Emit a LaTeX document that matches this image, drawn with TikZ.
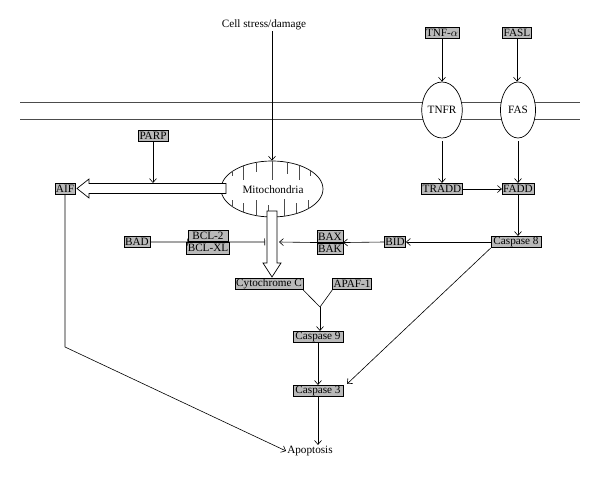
\documentclass[tikz,border=0pt]{standalone}
\usepackage{fontspec}
\setmainfont{Liberation Serif}
\usetikzlibrary{arrows.meta,calc,shapes.geometric}
\begin{document}
\begin{tikzpicture}[x=1pt,y=-1pt,
  fnt/.style={font=\fontsize{11.2}{11.2}\selectfont},
  gbox/.style={fnt,draw,fill=gray!55,inner xsep=1pt,inner ysep=0pt,minimum height=11.5pt,line width=0.6pt},
  plain/.style={fnt,inner sep=1pt},
  oval/.style={draw,fill=white,ellipse,line width=0.7pt},
  arr/.style={-{Straight Barb[length=4pt,width=7pt]},line width=0.6pt},
  inh/.style={-{Bar[width=7pt]},line width=0.6pt},
  ln/.style={line width=0.6pt},
  hollow/.style={draw,fill=white,line width=0.7pt}]
\useasboundingbox (0,0) rectangle (600,478);
% membrane
\draw[line width=0.8pt,gray!60!black] (20,102) -- (580,102);
\draw[line width=0.8pt,gray!60!black] (20,119) -- (580,119);
% stress
\node[plain] (stress) at (264,25) {Cell stress/damage};
% receptors
\node[oval,fnt,minimum width=35pt,minimum height=56pt,inner sep=0pt] (tnfr) at (442,110) {TNFR};
\node[oval,fnt,minimum width=35pt,minimum height=56pt,inner sep=0pt] (fas) at (518,110) {FAS};
\node[gbox,minimum width=29pt] (tnf) at (442,33) {TNF-$\alpha$};
\node[gbox,minimum width=27pt] (fasl) at (517,33) {FASL};
\node[gbox,minimum width=37pt] (tradd) at (442,189) {TRADD};
\node[gbox,minimum width=30pt] (fadd) at (518,189) {FADD};
\node[gbox,minimum width=50pt] (c8) at (516,242) {Caspase 8};
\node[gbox,minimum width=21pt] (bid) at (395,242) {BID};
\node[gbox,minimum width=25pt] (bax) at (330,236.5) {BAX};
\node[gbox,minimum width=25pt,anchor=north] (bak) at (bax.south) {BAK};
\node[gbox,minimum width=40pt] (bcl) at (208,236) {BCL-2};
\node[gbox,minimum width=40pt,anchor=north] (bclxl) at (bcl.south) {BCL-XL};
\node[gbox,minimum width=24pt] (bad) at (137,242) {BAD};
\node[gbox,minimum width=30pt] (parp) at (153,136) {PARP};
\node[gbox,minimum width=20pt] (aif) at (65,189) {AIF};
\node[gbox,minimum width=68pt] (cytc) at (269,284) {Cytochrome C};
\node[gbox,minimum width=37pt] (apaf) at (352,284) {APAF-1};
\node[gbox,minimum width=50pt] (c9) at (318,337) {Caspase 9};
\node[gbox,minimum width=50pt] (c3) at (318,391) {Caspase 3};
\node[plain] (apop) at (310,451) {Apoptosis};
% mitochondria
\node[oval,minimum width=102pt,minimum height=56pt,inner sep=0pt] (mito) at (272,189) {};
\begin{scope}
  \clip (272,189) ellipse [x radius=51, y radius=28];
  \foreach \x/\l in {232/176,243/180,256/172,272/180,287/174,299/180,310/176,320/180} \draw[ln,gray!60!black] (\x,150) -- (\x,\l);
  \foreach \x/\l in {232/200,243/203,256/200,268/205,284/199,296/203,308/200,318/201} \draw[ln,gray!60!black] (\x,230) -- (\x,\l);
\end{scope}
\node[plain,fill=white,inner sep=0.5pt] at (273,190) {Mitochondria};
% hollow arrows
\draw[hollow] (226,183.5) -- (89,183.5) -- (89,179) -- (77,188.5) -- (89,198) -- (89,193.5) -- (226,193.5) -- cycle;
\draw[hollow] (267,211) -- (267,263) -- (263,263) -- (272,277) -- (281,263) -- (277,263) -- (277,211) -- cycle;
% connectors
\coordinate (parpend) at (153,183);
\draw[arr] (stress.south -| mito.north) -- (mito.north);
\draw[arr] (parp.south) -- (parpend);
\draw[arr] (tnf.south) -- (tnfr.north);
\draw[arr] (fasl.south) -- (fasl.south |- fas.north);
\draw[arr] ($(tnfr.south)+(0,3)$) -- (tradd.north);
\draw[arr] ($(fas.south)+(0,3)$) -- (fadd.north);
\draw[arr] (tradd.east) -- (fadd.west);
\draw[arr] (fadd.south) -- (fadd.south |- c8.north);
\draw[arr] (c8.west) -- (bid.east);
\draw[arr] (bid.west) -- (bax.south east);
\coordinate (vr) at (279,242);
\coordinate (vl) at (265,242);
\draw[arr] (bax.south west) -- (vr);
\draw[inh] (bad.east) -- (bcl.south west);
\draw[inh] (bcl.south east) -- (vl);
\coordinate (jn) at (320,307);
\draw[ln] (cytc.south east) -- (jn);
\draw[ln] (apaf.south west) -- (jn);
\draw[arr] (jn) -- (c9.north -| jn);
\draw[arr] (c9.south) -- (c3.north);
\coordinate (c3in) at (347,384);
\draw[arr] (c8.south west) -- (c3in);
\draw[arr] (c3.south) -- (c3.south |- apop.north);
\coordinate (aifbend) at (65,347);
\draw[arr] (aif.south) -- (aifbend) -- (apop.west);
\end{tikzpicture}
\end{document}
